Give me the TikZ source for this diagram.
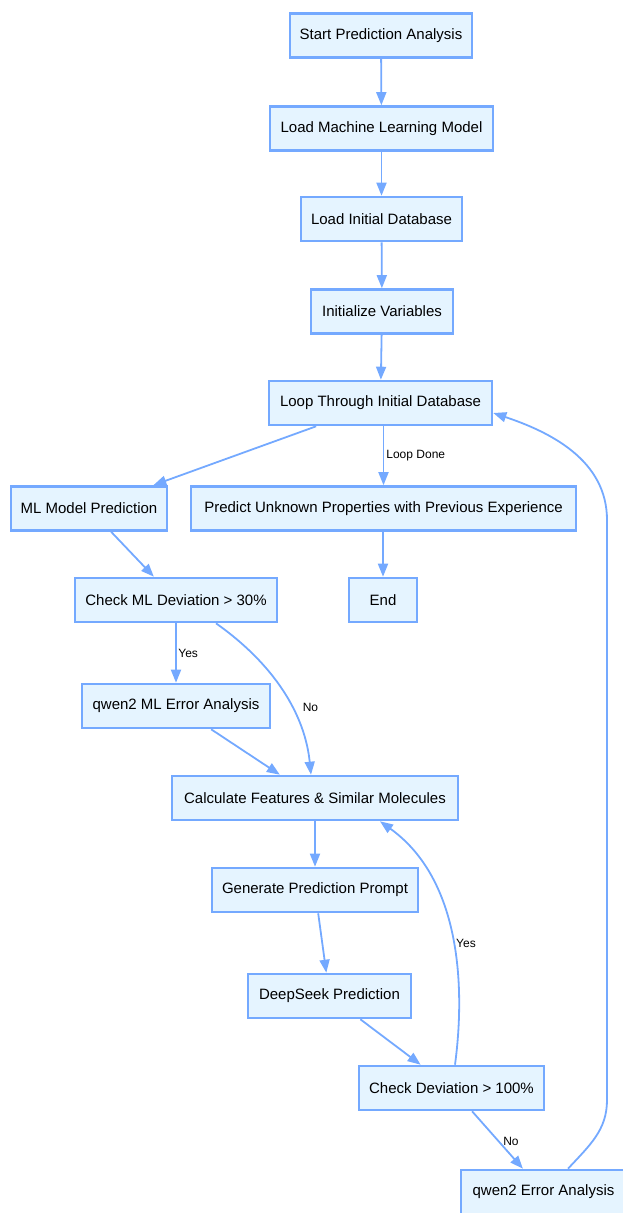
\documentclass[tikz,border=0pt]{standalone}
\usepackage{fontspec}
\setmainfont{Liberation Sans}
\usetikzlibrary{arrows.meta,calc}
\definecolor{bordc}{RGB}{116,169,255}
\definecolor{fillc}{RGB}{229,244,255}
\begin{document}
\begin{tikzpicture}[x=1pt,y=-1pt,
  box/.style={draw=bordc, fill=fillc, line width=2.6pt, minimum height=44pt, inner sep=0pt, font=\fontsize{15}{18}\selectfont, text=black},
  arr/.style={draw=bordc, line width=1.8pt, -{Triangle[length=13pt,width=10pt]}},
  lab/.style={font=\fontsize{12}{14}\selectfont, inner sep=0pt, text=black}
]
\useasboundingbox (0,0) rectangle (623,1213);
\clip (0,0) rectangle (623,1213);

\node[box, minimum width=182pt] (start)   at (381,35.5)   {Start Prediction Analysis};
\node[box, minimum width=223pt] (loadml)  at (381.5,128.5) {Load Machine Learning Model};
\node[box, minimum width=161pt] (loaddb)  at (381.5,219)  {Load Initial Database};
\node[box, minimum width=142pt] (init)    at (382,311.5)  {Initialize Variables};
\node[box, minimum width=223pt] (loop)    at (380.5,403)  {Loop Through Initial Database};
\node[box, minimum width=156pt] (mlpred)  at (89,508.5)   {ML Model Prediction};
\node[box, minimum width=385pt] (predict) at (383.5,508.5) {Predict Unknown Properties with Previous Experience};
\node[box, minimum width=68pt]  (endn)    at (383,600)    {End};
\node[box, minimum width=202pt] (checkml) at (176,600)    {Check ML Deviation > 30\%};
\node[box, minimum width=188pt] (qwenml)  at (176,706)    {qwen2 ML Error Analysis};
\node[box, minimum width=286pt] (calc)    at (315,798)    {Calculate Features \& Similar Molecules};
\node[box, minimum width=206pt] (gen)     at (315,890)    {Generate Prediction Prompt};
\node[box, minimum width=163pt] (deep)    at (329.5,996)  {DeepSeek Prediction};
\node[box, minimum width=185pt] (checkdev) at (451.5,1088) {Check Deviation > 100\%};
\node[box, minimum width=165pt] (qwenerr) at (543.5,1192) {qwen2 Error Analysis};

\draw[arr] (start) -- (loadml);
\draw[arr] (loadml) -- (loaddb);
\draw[arr] (loaddb) -- (init);
\draw[arr] (init) -- (loop);
\draw[arr] (loop) -- (mlpred);
\draw[arr] (loop.south -| predict.north) -- node[lab, right, xshift=2pt] (ldone) {Loop Done} (predict.north);
\draw[arr] (predict.south -| endn.north) -- (endn.north);
\draw[arr] (mlpred) -- (checkml);
\draw[arr] (checkml) -- node[lab, right, xshift=1.5pt] (lyes1) {Yes} (qwenml);
\draw[arr] ($(checkml.south)+(40,0)$) .. controls (275,665) and (305,715) .. ($(calc.north)+(-4,0)$);
\node[lab] (lno1) at (310.5,707) {No};
\draw[arr] (qwenml) -- (calc);
\draw[arr] (calc) -- (gen);
\draw[arr] (gen) -- (deep);
\draw[arr] (deep) -- (checkdev);
\draw[arr] (checkdev) -- (qwenerr);
\node[lab] (lno2) at (511,1141) {No};
\draw[arr] ($(checkdev.north)+(3.5,0)$) .. controls (465,990) and (462,880) .. ($(calc.south)+(65,0)$);
\node[lab, anchor=west] (lyes2) at (456,943) {Yes};
\draw[arr] ($(qwenerr.north)+(24.5,0)$) .. controls (590,1145) and (607,1130) .. (607,1100)
  -- (607,520) .. controls (607,460) and (550,432) .. ($(loop.east)+(0,10)$);
\end{tikzpicture}
\end{document}
